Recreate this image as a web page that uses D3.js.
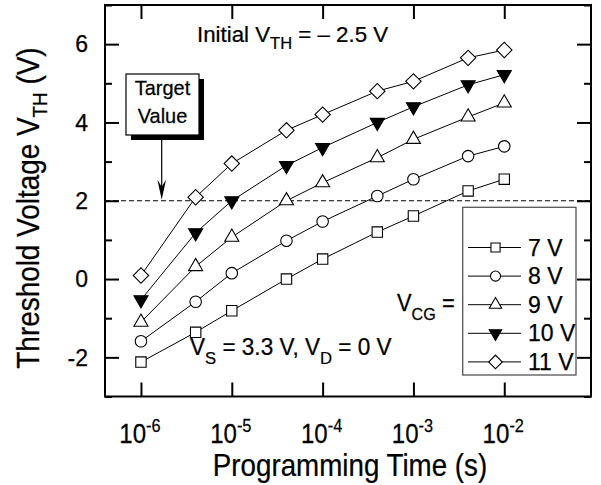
<!DOCTYPE html>
<html>
<head>
<meta charset="utf-8">
<script src="https://cdn.jsdelivr.net/npm/d3@7"></script>
<style>
  html, body { margin: 0; padding: 0; background: #fff; }
  svg text { font-family: "Liberation Sans", Arial, Helvetica, sans-serif; fill: #000; stroke: #000; stroke-width: 0.25px; }
</style>
</head>
<body>
<svg id="chart" width="601" height="485"></svg>
<script>
// Programming times (s) and threshold voltage after programming for each control-gate voltage
const times = [1e-6, 4e-6, 1e-5, 4e-5, 1e-4, 4e-4, 1e-3, 4e-3, 1e-2];
const vth7  = [-2.12, -1.36, -0.81, 0.00, 0.51, 1.20, 1.61, 2.25, 2.55];
const vth8  = [-1.59, -0.58, 0.15, 0.98, 1.47, 2.12, 2.55, 3.14, 3.39];
const vth9  = [-1.10, 0.32, 1.07, 2.00, 2.46, 3.10, 3.57, 4.14, 4.50];
const vth10 = [-0.53, 1.18, 2.00, 2.90, 3.36, 4.00, 4.40, 4.96, 5.22];
const vth11 = [0.09, 2.09, 2.95, 3.80, 4.20, 4.80, 5.05, 5.65, 5.85];
const seriesNames = ["7 V", "8 V", "9 V", "10 V", "11 V"];
const xTickExps = [-6, -5, -4, -3, -2];
const yTicks = [-2, 0, 2, 4, 6];
const yMinorTicks = [-3, -1, 1, 3, 5, 7];
const targetVth = 2;

const series = [
  { name: seriesNames[0], values: vth7,  symbol: "square" },
  { name: seriesNames[1], values: vth8,  symbol: "circle" },
  { name: seriesNames[2], values: vth9,  symbol: "triUp" },
  { name: seriesNames[3], values: vth10, symbol: "triDown" },
  { name: seriesNames[4], values: vth11, symbol: "diamond" }
];

const svg = d3.select("#chart");
const plot = { left: 105, top: 5, right: 591, bottom: 396.5 };

const x = d3.scaleLog().domain([Math.pow(10, -6.396), Math.pow(10, -1.045)]).range([plot.left, plot.right]);
const y = d3.scaleLinear().domain([-3, 7]).range([plot.bottom, plot.top]);

// marker shapes
function markerPath(kind, k) {
  k = k || 1;
  switch (kind) {
    case "square":  return d3.symbol(d3.symbolSquare, 108 * k * k)();
    case "circle":  return d3.symbol(d3.symbolCircle, 104 * k * k)();
    case "triUp":   return d3.symbol(d3.symbolTriangle, 86 * k * k)();
    case "triDown": return d3.symbol(d3.symbolTriangle, 86 * k * k)();
    case "diamond": return d3.symbol(d3.symbolSquare, 118 * k * k)();
  }
}
function markerRotate(kind) {
  return kind === "triDown" ? 180 : kind === "diamond" ? 45 : 0;
}
function drawMarker(g, kind, cx, cy, k) {
  g.append("path")
    .attr("d", markerPath(kind, k))
    .attr("transform", `translate(${cx},${cy}) rotate(${markerRotate(kind)})`)
    .attr("fill", kind === "triDown" ? "#000" : "#fff")
    .attr("stroke", "#000")
    .attr("stroke-width", 1.1);
}

// text helper: parts = [{t, size, dy}] ; sx = horizontal squeeze
function label(parent, tx, ty, parts, opts) {
  opts = opts || {};
  const t = parent.append("text")
    .attr("transform", `translate(${tx},${ty})${opts.rotate ? " rotate(" + opts.rotate + ")" : ""} scale(${opts.sx || 1},1)`)
    .attr("text-anchor", opts.anchor || "start");
  parts.forEach(p => {
    t.append("tspan")
      .attr("font-size", p.size)
      .attr("dy", p.dy || 0)
      .text(p.t);
  });
  return t;
}

// dashed target line
svg.append("line")
  .attr("x1", plot.left).attr("x2", plot.right)
  .attr("y1", y(targetVth)).attr("y2", y(targetVth))
  .attr("stroke", "#000").attr("stroke-width", 1.2)
  .attr("stroke-dasharray", "5,3");

// data lines and markers
const line = d3.line().x((d, i) => x(times[i])).y(d => y(d));
series.forEach(s => {
  svg.append("path")
    .attr("d", line(s.values))
    .attr("fill", "none").attr("stroke", "#000").attr("stroke-width", 1);
});
series.forEach(s => {
  const g = svg.append("g");
  s.values.forEach((v, i) => drawMarker(g, s.symbol, x(times[i]), y(v), 1));
});

// axes: ticks on all four sides pointing inward
const tickLen = 14, minorLen = 7;
const axisBottom = d3.axisBottom(x).tickValues(xTickExps.map(e => Math.pow(10, e))).tickSizeInner(-tickLen).tickSizeOuter(0).tickFormat("");
const axisTop = d3.axisTop(x).tickValues(xTickExps.map(e => Math.pow(10, e))).tickSizeInner(-tickLen).tickSizeOuter(0).tickFormat("");
const axisLeft = d3.axisLeft(y).tickValues(yTicks).tickSizeInner(-tickLen).tickSizeOuter(0).tickFormat("");
const axisRight = d3.axisRight(y).tickValues(yTicks).tickSizeInner(-tickLen).tickSizeOuter(0).tickFormat("");
const axisLeftMinor = d3.axisLeft(y).tickValues(yMinorTicks).tickSizeInner(-minorLen).tickSizeOuter(0).tickFormat("");
const axisRightMinor = d3.axisRight(y).tickValues(yMinorTicks).tickSizeInner(-minorLen).tickSizeOuter(0).tickFormat("");

function styleAxis(g) {
  g.select(".domain").remove();
  g.selectAll(".tick line").attr("stroke", "#000").attr("stroke-width", 2);
}
svg.append("g").attr("transform", `translate(0,${plot.bottom})`).call(axisBottom).call(styleAxis);
svg.append("g").attr("transform", `translate(0,${plot.top})`).call(axisTop).call(styleAxis);
svg.append("g").attr("transform", `translate(${plot.left},0)`).call(axisLeft).call(styleAxis);
svg.append("g").attr("transform", `translate(${plot.right},0)`).call(axisRight).call(styleAxis);
svg.append("g").attr("transform", `translate(${plot.left},0)`).call(axisLeftMinor).call(styleAxis);
svg.append("g").attr("transform", `translate(${plot.right},0)`).call(axisRightMinor).call(styleAxis);

// frame
svg.append("rect")
  .attr("x", plot.left).attr("y", plot.top)
  .attr("width", plot.right - plot.left).attr("height", plot.bottom - plot.top)
  .attr("fill", "none").attr("stroke", "#000").attr("stroke-width", 2);

// tick labels
yTicks.forEach(v => {
  label(svg, 88, y(v) + 8.2, [{ t: String(v), size: 23 }], { anchor: "end" });
});
xTickExps.forEach(e => {
  label(svg, x(Math.pow(10, e)) - 1, 443, [
    { t: "10", size: 28 },
    { t: String(e), size: 19, dy: -11 }
  ], { anchor: "middle", sx: 0.86 });
});

// axis titles
label(svg, 350, 476, [{ t: "Programming Time (s)", size: 31 }], { anchor: "middle", sx: 0.895 });
label(svg, 39, 208, [
  { t: "Threshold Voltage V", size: 31 },
  { t: "TH", size: 21, dy: 8 },
  { t: " (V)", size: 31, dy: -8 }
], { anchor: "middle", rotate: -90, sx: 0.9 });

// annotations
label(svg, 197, 42, [
  { t: "Initial V", size: 23 },
  { t: "TH", size: 17, dy: 7 },
  { t: " = \u2013 2.5 V", size: 23, dy: -7 }
], { sx: 0.97 });
label(svg, 190, 355, [
  { t: "V", size: 23 },
  { t: "S", size: 17, dy: 9 },
  { t: " = 3.3 V, V", size: 23, dy: -9 },
  { t: "D", size: 17, dy: 9 },
  { t: " = 0 V", size: 23, dy: -9 }
], { sx: 0.98 });
label(svg, 397, 311, [
  { t: "V", size: 23 },
  { t: "CG", size: 17, dy: 9 },
  { t: " =", size: 23, dy: -9 }
], { sx: 0.95 });

// target value callout
const box = { x: 126, y: 74, w: 73, h: 61 };
svg.append("rect").attr("x", box.x + 5).attr("y", box.y + 5).attr("width", box.w).attr("height", box.h).attr("fill", "#000");
svg.append("rect").attr("x", box.x).attr("y", box.y).attr("width", box.w).attr("height", box.h)
  .attr("fill", "#fff").attr("stroke", "#000").attr("stroke-width", 1.2);
label(svg, box.x + box.w / 2, 95, [{ t: "Target", size: 21 }], { anchor: "middle", sx: 0.95 });
label(svg, box.x + box.w / 2, 123, [{ t: "Value", size: 21 }], { anchor: "middle", sx: 0.95 });
const ax = 161.7, tipY = y(targetVth) - 1;
svg.append("line").attr("x1", ax).attr("x2", ax).attr("y1", box.y + box.h).attr("y2", tipY - 8)
  .attr("stroke", "#000").attr("stroke-width", 1.2);
svg.append("path")
  .attr("d", `M${ax},${tipY} L${ax - 4.3},${tipY - 20} L${ax},${tipY - 13} L${ax + 4.3},${tipY - 20} Z`)
  .attr("fill", "#000");

// legend
const lg = { x: 462.7, y: 207.3, w: 113.3, h: 167.7 };
svg.append("rect").attr("x", lg.x).attr("y", lg.y).attr("width", lg.w).attr("height", lg.h)
  .attr("fill", "#fff").attr("stroke", "#555").attr("stroke-width", 1.3);
series.forEach((s, i) => {
  const cy = 247.5 + i * 28.6;
  const g = svg.append("g");
  g.append("line").attr("x1", 468).attr("x2", 521).attr("y1", cy).attr("y2", cy)
    .attr("stroke", "#000").attr("stroke-width", 1);
  drawMarker(g, s.symbol, 495.5, cy, 0.88);
  label(g, 528, cy + 8, [{ t: s.name, size: 23 }], {});
});
</script>
</body>
</html>
